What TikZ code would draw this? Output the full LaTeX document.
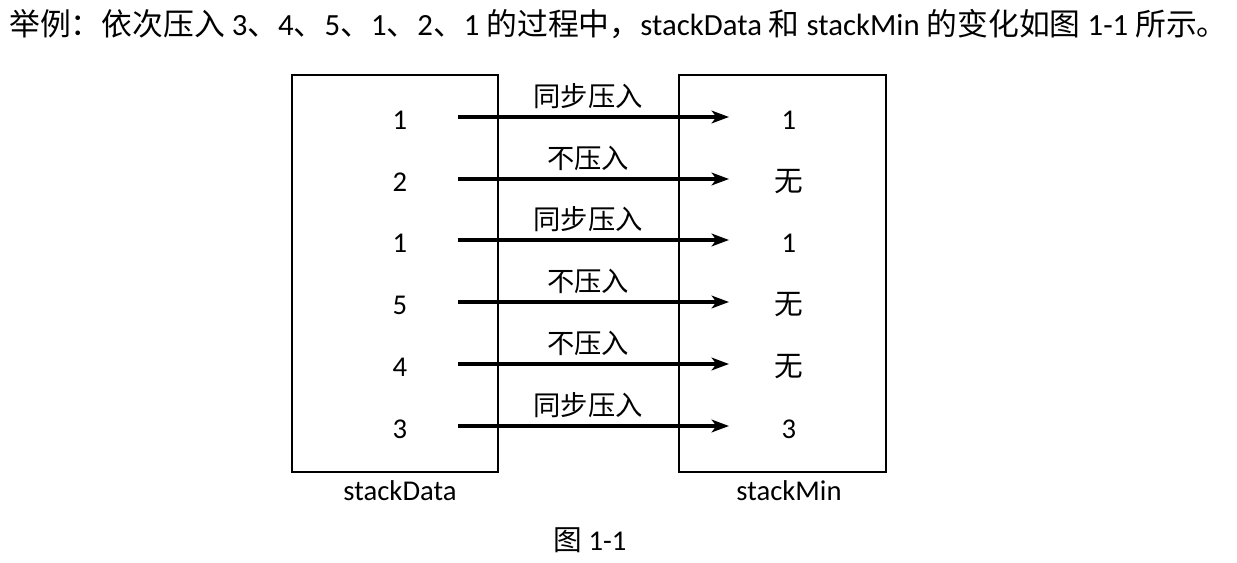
\documentclass[tikz,border=0pt]{standalone}
\usepackage{fontspec}
\setmainfont{Carlito}
\newfontfamily\cjk{Noto Sans CJK SC}
\usetikzlibrary{arrows.meta}
\tikzset{
  box/.style={draw, line width=1.1pt},
  val/.style={font=\fontsize{21.5}{25}\selectfont, inner sep=0pt},
  lab/.style={font=\fontsize{20.5}{24}\selectfont\cjk, inner sep=0pt},
  push/.style={line width=2.4pt, -{Stealth[length=13pt, width=9.5pt, inset=3.5pt]}},
}
\begin{document}
\begin{tikzpicture}[x=0.75pt, y=-0.75pt]
\useasboundingbox (0,0) rectangle (1237,563);
% title
\node[anchor=west, inner sep=0pt, font=\fontsize{23.1}{27}\selectfont] (title) at (9,24)
  {{\cjk 举例：依次压入} 3{\cjk 、}4{\cjk 、}5{\cjk 、}1{\cjk 、}2{\cjk 、}1 {\cjk 的过程中，}stackData {\cjk 和} stackMin {\cjk 的变化如图} 1-1 {\cjk 所示。}};
% boxes
\node[box, minimum width=206*0.75pt, minimum height=397*0.75pt, inner sep=0pt] (data) at (395,273.5) {};
\node[box, minimum width=207*0.75pt, minimum height=397*0.75pt, inner sep=0pt] (min) at (782.5,273.5) {};
% values
\foreach \i/\y/\d/\m/\l in {1/120/1/1/同步压入, 2/182/2/{\cjk 无}/不压入, 3/243/1/1/同步压入, 4/305/5/{\cjk 无}/不压入, 5/367/4/{\cjk 无}/不压入, 6/429/3/3/同步压入}{
  \node[val] (d\i) at (400,\y) {\d};
  \node[val] (m\i) at (789,\y) {\m};
  \coordinate (s\i) at (458,\y-3);
  \coordinate (e\i) at (729,\y-3);
  \draw[push] (s\i) -- (e\i);
  \node[lab] (l\i) at (588,\y-24) {\l};
}
% captions
\node[val] (cd) at (400,491) {stackData};
\node[val] (cm) at (789,491) {stackMin};
\node[val] (fig) at (590,540) {{\cjk 图} 1-1};
\end{tikzpicture}
\end{document}
